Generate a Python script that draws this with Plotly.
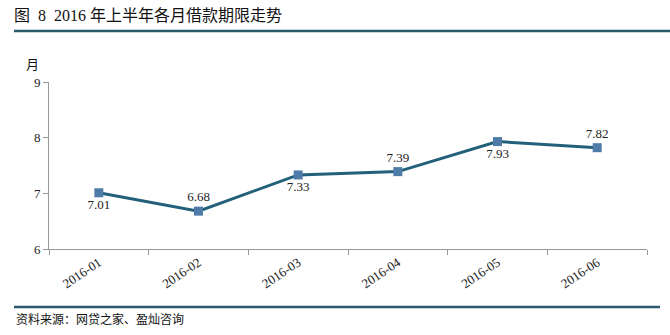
import plotly.graph_objects as go

months = ["2016-01", "2016-02", "2016-03", "2016-04", "2016-05", "2016-06"]
values = [7.01, 6.68, 7.33, 7.39, 7.93, 7.82]
label_pos = ["bottom center", "top center", "bottom center", "top center", "bottom center", "top center"]
y_ticks = [6, 7, 8, 9]

W, H = 670, 335
L, R, T, B = 49, 23, 82, 86
pw, ph = W - L - R, H - T - B

def px(x):
    return (x - L) / pw

def py(y):
    return (H - B - y) / ph

serif = "Liberation Serif, Times New Roman, serif"
cjk = "Liberation Serif, Noto Sans CJK SC, serif"

fig = go.Figure()
fig.add_trace(go.Scatter(
    x=months, y=values, mode="lines+markers+text",
    line=dict(color="#22607a", width=3),
    marker=dict(symbol="square", size=9, color="#4f7ba8"),
    text=[f"{v:.2f}" for v in values], textposition=label_pos,
    textfont=dict(family=serif, size=13, color="#222"),
    cliponaxis=False, showlegend=False,
))

fig.update_layout(
    width=W, height=H, margin=dict(l=L, r=R, t=T, b=B),
    paper_bgcolor="white", plot_bgcolor="white",
    xaxis=dict(type="category", range=[-0.5, 5.5], showgrid=False,
               showline=True, linecolor="#999", linewidth=1,
               ticks="outside", tickson="boundaries", ticklen=5, tickcolor="#999",
               tickangle=-34, tickfont=dict(family=serif, size=13, color="#222")),
    yaxis=dict(range=[6, 9], tickvals=y_ticks, showgrid=False, zeroline=False,
               showline=True, linecolor="#999", linewidth=1,
               ticks="outside", ticklen=5, tickcolor="#999",
               tickfont=dict(family=serif, size=13, color="#222")),
)

fig.add_annotation(text="图  8  2016 年上半年各月借款期限走势", xref="paper", yref="paper",
                   x=px(12), y=py(15), xanchor="left", yanchor="middle", showarrow=False,
                   font=dict(family=cjk, size=16, color="#111"))
fig.add_annotation(text="月", xref="paper", yref="paper",
                   x=px(32), y=py(63), xanchor="center", yanchor="middle", showarrow=False,
                   font=dict(family="Noto Sans CJK SC", size=13, color="#111"))
fig.add_annotation(text="资料来源：网贷之家、盈灿咨询", xref="paper", yref="paper",
                   x=px(14), y=py(318), xanchor="left", yanchor="middle", showarrow=False,
                   font=dict(family="Noto Sans CJK SC", size=12, color="#111"))
fig.add_shape(type="line", xref="paper", yref="paper", x0=px(14), x1=px(670),
              y0=py(31), y1=py(31), line=dict(color="#2a5a6c", width=2.5))
fig.add_shape(type="line", xref="paper", yref="paper", x0=px(14), x1=px(660),
              y0=py(307), y1=py(307), line=dict(color="#2a5a6c", width=2.5))

fig.write_html("out.html")
